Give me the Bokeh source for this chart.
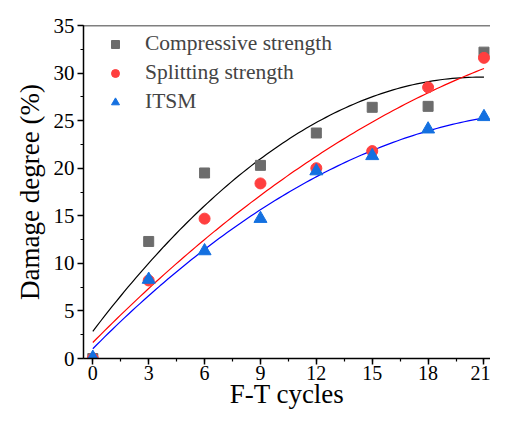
import numpy as np
from bokeh.plotting import figure
from bokeh.models import Range1d, Legend, LegendItem, FixedTicker, Span
from bokeh.embed import file_html
from bokeh.resources import INLINE

cycles = [0, 3, 6, 9, 12, 15, 18, 21]
compressive = [0.0, 12.3, 19.5, 20.3, 23.7, 26.4, 26.5, 32.2]
splitting = [0.0, 8.2, 14.7, 18.4, 20.0, 21.8, 28.5, 31.6]
itsm = [0.1, 8.3, 11.3, 14.7, 19.7, 21.3, 24.1, 25.4]
x_ticks = [0, 3, 6, 9, 12, 15, 18, 21]
y_ticks = [0, 5, 10, 15, 20, 25, 30, 35]

FONT = "Liberation Serif"

p = figure(width=490, height=411, output_backend="svg", toolbar_location=None,
           x_range=Range1d(-0.5, 21.35), y_range=Range1d(0, 35),
           min_border_left=83, min_border_right=0, min_border_top=25, min_border_bottom=0)
p.outline_line_color = None
p.grid.visible = False
p.background_fill_color = "white"

for ax in (p.xaxis[0], p.yaxis[0]):
    ax.axis_line_width = 1.5
    ax.major_tick_line_width = 1.5
    ax.minor_tick_line_width = 1.2
    ax.major_tick_out = 6
    ax.major_tick_in = 0
    ax.minor_tick_out = 3
    ax.minor_tick_in = 0
    ax.major_label_text_font = FONT
    ax.major_label_text_font_size = "21px"
    ax.major_label_text_color = "black"
    ax.axis_label_text_font = FONT
    ax.axis_label_text_font_size = "27px"
    ax.axis_label_text_font_style = "normal"
    ax.axis_label_text_color = "black"

p.xaxis[0].major_label_text_font_size = "20px"
p.xaxis[0].ticker = FixedTicker(ticks=x_ticks, minor_ticks=list(np.arange(0, 22.5, 1.5)))
p.yaxis[0].ticker = FixedTicker(ticks=y_ticks, minor_ticks=list(np.arange(0, 36, 2.5)))
p.xaxis.axis_label = "F-T cycles"
p.yaxis.axis_label = "Damage degree (%)"
p.xaxis[0].major_label_standoff = 1
p.xaxis[0].axis_label_standoff = -4
p.yaxis[0].major_label_standoff = 3
p.yaxis[0].axis_label_standoff = 6

p.add_layout(Span(location=35, dimension="width", line_color="black", line_width=1.5))

xs = np.linspace(0, 21, 100)
def fit(y):
    c = np.polyfit(cycles, y, 2)
    return np.polyval(c, xs)

p.line(xs, fit(compressive), line_color="black", line_width=1.2)
p.line(xs, fit(splitting), line_color="red", line_width=1.2)
p.line(xs, fit(itsm), line_color="blue", line_width=1.2)

r1 = p.scatter(cycles, compressive, marker="square", size=10, fill_color="#6c6c6c", line_color="#6c6c6c")
r2 = p.scatter(cycles, splitting, marker="circle", size=11, fill_color="#ff3f3f", line_color="#ff3f3f")
r3 = p.scatter(cycles, itsm, marker="triangle", size=13, fill_color="#1470e0", line_color="#1470e0")

legend = Legend(items=[LegendItem(label="Compressive strength", renderers=[r1]),
                       LegendItem(label="Splitting strength", renderers=[r2]),
                       LegendItem(label="ITSM", renderers=[r3])],
                location="top_left", border_line_color=None, background_fill_alpha=0,
                label_text_font=FONT, label_text_font_size="21.5px",
                glyph_width=52, glyph_height=20, label_height=24,
                label_standoff=4, spacing=4, margin=6, padding=6)
p.add_layout(legend)

open("out.html", "w").write(file_html(p, INLINE))
